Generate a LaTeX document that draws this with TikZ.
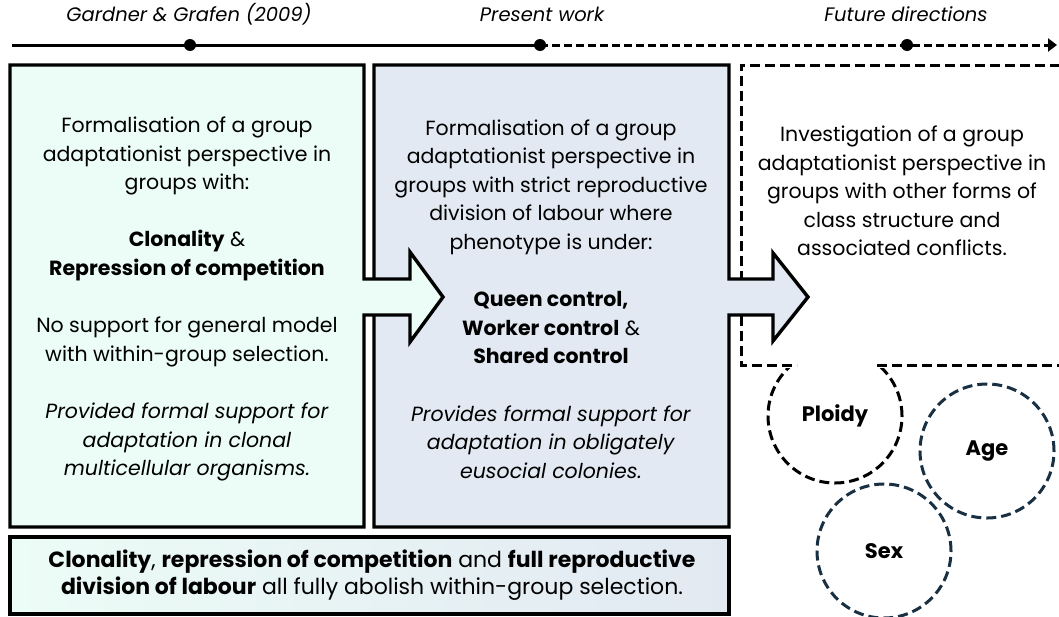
\documentclass[tikz,border=0pt]{standalone}
\usepackage{fontspec}
\setmainfont{Poppins}
\usetikzlibrary{arrows.meta}
\definecolor{mint}{RGB}{236,252,246}
\definecolor{bluegray}{RGB}{226,233,242}
\definecolor{navy}{RGB}{24,48,66}
\begin{document}
\begin{tikzpicture}[x=1pt,y=-1pt,
  box/.style={draw=black,line width=3.4pt,line join=miter},
  dbox/.style={draw=black,line width=3pt,dash pattern=on 10pt off 5pt},
  body/.style={font=\fontsize{20.5}{28.6}\selectfont,align=center,inner sep=0pt},
  lbl/.style={font=\fontsize{19.5}{22}\selectfont\itshape,inner sep=0pt,anchor=base},
  dot/.style={circle,fill=black,inner sep=0pt,minimum size=12pt},
  circ/.style={circle,minimum size=134pt,inner sep=0pt,line width=3pt,dash pattern=on 10pt off 5pt,font=\fontsize{21}{24}\selectfont\bfseries}
]
\useasboundingbox (0,0) rectangle (1059,616);
\clip (0,0) rectangle (1059,616);

% timeline
\coordinate (tl0) at (12,45);
\coordinate (tl1) at (1057,45);
\node[dot] (d1) at (190,45) {};
\node[dot] (d2) at (540,45) {};
\node[dot] (d3) at (907,45) {};
\draw[line width=3pt] (tl0) -- (d1.center) -- (d2.center);
\draw[line width=3pt,dash pattern=on 8pt off 4pt,-{Triangle[length=9pt,width=13pt]}] (d2.center) -- (d3.center) -- (tl1);

\node[lbl] (l1) at (189,21) {Gardner \& Grafen (2009)};
\node[lbl] (l2) at (542,21) {Present work};
\node[lbl] (l3) at (906,21) {Future directions};

% dashed future box
\draw[dbox] (1075,65) -- (741,65) -- (741,365) -- (797,365);
\draw[dbox] (877,365) -- (1075,365);

% middle box with arrow
\draw[box,fill=bluegray] (374,65) -- (729,65) -- (729,279) -- (773,279) -- (773,253) -- (808,297) -- (773,341) -- (773,315) -- (729,315) -- (729,527) -- (374,527) -- cycle;

% left box with arrow
\draw[box,fill=mint] (10,65) -- (364,65) -- (364,279) -- (410,279) -- (410,252) -- (443,297) -- (410,342) -- (410,315) -- (364,315) -- (364,527) -- (10,527) -- cycle;

% bottom box
\shade[left color=mint,right color=bluegray] (10,537) rectangle (729,614);
\draw[box] (10,537) rectangle (729,614);

% texts
\node[body] (t1) at (187,299) {Formalisation of a group\\
adaptationist perspective in\\
groups with:\\[28.6pt]
\textbf{Clonality} \&\\
\textbf{Repression of competition}\\[28.6pt]
No support for general model\\
with within-group selection.\\[28.6pt]
\textit{Provided formal support for}\\
\textit{adaptation in clonal}\\
\textit{multicellular organisms.}};

\node[body] (t2) at (551,299) {Formalisation of a group\\
adaptationist perspective in\\
groups with strict reproductive\\
division of labour where\\
phenotype is under:\\[28.6pt]
\textbf{Queen control,}\\
\textbf{Worker control} \&\\
\textbf{Shared control}\\[28.6pt]
\textit{Provides formal support for}\\
\textit{adaptation in obligately}\\
\textit{eusocial colonies.}};

\node[body] (t3) at (902,191) {Investigation of a group\\
adaptationist perspective in\\
groups with other forms of\\
class structure and\\
associated conflicts.};

\node[body,font=\fontsize{22}{26.5}\selectfont] (t4) at (372,575) {\textbf{Clonality}, \textbf{repression of competition} and \textbf{full reproductive}\\
\textbf{division of labour} all fully abolish within-group selection.};

% circles
\begin{scope}
\clip (741,368) rectangle (1059,616);
\node[circ,draw=black] (ploidy) at (835,416) {Ploidy};
\end{scope}
\node[circ,draw=navy] (age) at (987,451) {Age};
\node[circ,draw=navy] (sex) at (884,551) {Sex};
\end{tikzpicture}
\end{document}
